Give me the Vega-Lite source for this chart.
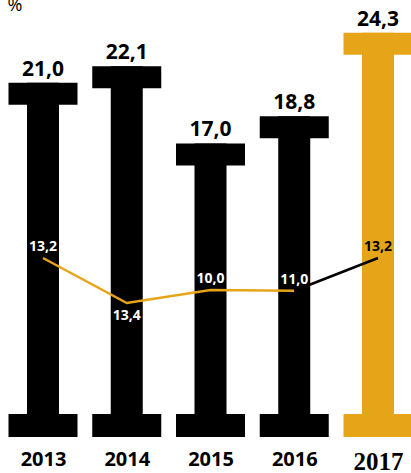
{
  "$schema": "https://vega.github.io/schema/vega-lite/v6.json",
  "width": 411,
  "height": 437,
  "padding": {"left": 0, "top": 0, "right": 0, "bottom": 36},
  "autosize": {"type": "none"},
  "config": {
    "view": {"stroke": null},
    "font": "Open Sans",
    "locale": {"number": {"decimal": ",", "thousands": ".", "grouping": [3], "currency": ["", " €"]}}
  },
  "datasets": {
    "bars": [
      {"year": "2013", "value": 21.0},
      {"year": "2014", "value": 22.1},
      {"year": "2015", "value": 17.0},
      {"year": "2016", "value": 18.8},
      {"year": "2017", "value": 24.3}
    ],
    "line": [
      {"year": "2013", "pos": 9.44, "rate": 13.2, "seg": "a"},
      {"year": "2014", "pos": 6.47, "rate": 13.4, "seg": "a"},
      {"year": "2015", "pos": 7.33, "rate": 10.0, "seg": "a"},
      {"year": "2016", "pos": 7.28, "rate": 11.0, "seg": "a"},
      {"year": "2016", "pos": 7.28, "rate": 11.0, "seg": "b"},
      {"year": "2017", "pos": 9.44, "rate": 13.2, "seg": "b"}
    ]
  },
  "encoding": {
    "x": {
      "field": "year",
      "type": "nominal",
      "scale": {"type": "point", "range": [43, 378], "padding": 0},
      "axis": {
        "title": null,
        "domain": false,
        "ticks": false,
        "tickSize": 0,
        "labelPadding": 12,
        "labelAngle": 0,
        "labelColor": "#000000",
        "labelFontWeight": "bold",
        "labelFont": {"condition": {"test": "datum.value === '2017'", "value": "Liberation Sans Narrow"}, "value": "Open Sans"},
        "labelFontSize": {"condition": {"test": "datum.value === '2017'", "value": 25}, "value": 20}
      }
    }
  },
  "layer": [
    {
      "data": {"name": "bars"},
      "mark": {"type": "bar", "width": 32},
      "encoding": {
        "y": {
          "field": "value",
          "type": "quantitative",
          "scale": {"domain": [-2.376, 26.47], "nice": false, "zero": false},
          "axis": {
            "title": "%",
            "labels": false,
            "ticks": false,
            "domain": false,
            "grid": false,
            "titleAngle": 0,
            "titleX": 7,
            "titleY": 10,
            "titleAlign": "left",
            "titleBaseline": "alphabetic",
            "titleFontSize": 18,
            "titleFontWeight": "normal",
            "titleColor": "#000000",
            "titlePadding": 0
          }
        },
        "y2": {"datum": -2.376},
        "color": {"condition": {"test": "datum.year === '2017'", "value": "#E6A519"}, "value": "#000000"}
      }
    },
    {
      "data": {"name": "bars"},
      "mark": {"type": "tick", "orient": "horizontal", "thickness": 22, "size": 69, "yOffset": 11, "opacity": 1},
      "encoding": {
        "y": {"field": "value", "type": "quantitative", "scale": {"domain": [-2.376, 26.47], "nice": false, "zero": false}},
        "color": {"condition": {"test": "datum.year === '2017'", "value": "#E6A519"}, "value": "#000000"}
      }
    },
    {
      "data": {"name": "bars"},
      "mark": {"type": "tick", "orient": "horizontal", "thickness": 23, "size": 69, "yOffset": -11.5, "opacity": 1},
      "encoding": {
        "y": {"datum": -2.376, "type": "quantitative", "scale": {"domain": [-2.376, 26.47], "nice": false, "zero": false}},
        "color": {"condition": {"test": "datum.year === '2017'", "value": "#E6A519"}, "value": "#000000"}
      }
    },
    {
      "data": {"name": "bars"},
      "mark": {"type": "text", "baseline": "alphabetic", "dy": -7, "fontSize": 21, "fontWeight": "bold", "color": "#000000"},
      "encoding": {
        "y": {"field": "value", "type": "quantitative", "scale": {"domain": [-2.376, 26.47], "nice": false, "zero": false}},
        "text": {"field": "value", "type": "quantitative", "format": ".1f"}
      }
    },
    {
      "data": {"name": "line"},
      "mark": {"type": "line", "strokeWidth": 2.5},
      "encoding": {
        "y": {"field": "pos", "type": "quantitative", "scale": {"domain": [-2.376, 26.47], "nice": false, "zero": false}},
        "detail": {"field": "seg"},
        "color": {"field": "seg", "type": "nominal", "scale": {"domain": ["a", "b"], "range": ["#E6A519", "#000000"]}, "legend": null}
      }
    },
    {
      "data": {"name": "line"},
      "transform": [{"filter": "(datum.seg === 'a' || datum.year === '2017') && datum.year !== '2014'"}],
      "mark": {"type": "text", "baseline": "alphabetic", "dy": -7, "fontSize": 14, "fontWeight": "bold"},
      "encoding": {
        "y": {"field": "pos", "type": "quantitative", "scale": {"domain": [-2.376, 26.47], "nice": false, "zero": false}},
        "text": {"field": "rate", "type": "quantitative", "format": ".1f"},
        "color": {"condition": {"test": "datum.year === '2017'", "value": "#000000"}, "value": "#FFFFFF"}
      }
    },
    {
      "data": {"name": "line"},
      "transform": [{"filter": "datum.year === '2014'"}],
      "mark": {"type": "text", "baseline": "alphabetic", "dy": 17, "fontSize": 14, "fontWeight": "bold", "color": "#FFFFFF"},
      "encoding": {
        "y": {"field": "pos", "type": "quantitative", "scale": {"domain": [-2.376, 26.47], "nice": false, "zero": false}},
        "text": {"field": "rate", "type": "quantitative", "format": ".1f"}
      }
    }
  ]
}
